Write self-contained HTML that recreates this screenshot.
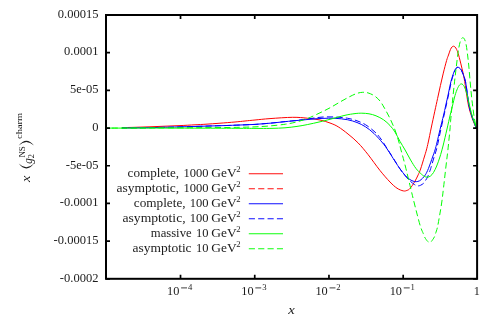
<!DOCTYPE html>
<html><head><meta charset="utf-8"><title>plot</title>
<style>
html,body{margin:0;padding:0;background:#fff;}
body{width:496px;height:319px;overflow:hidden;position:relative;font-family:"Liberation Serif",serif;}
svg text{font-family:"Liberation Serif",serif;fill:#1c1c1c;}
</style></head><body>
<svg width="496" height="319" viewBox="0 0 496 319" style="position:absolute;left:0;top:0;will-change:transform;opacity:0.999">
<defs><clipPath id="cl"><rect x="122" y="0" width="374" height="319"/></clipPath></defs>
<path d="M106.00 128.00 C108.33 127.95 115.17 127.82 120.00 127.70 C124.83 127.58 130.00 127.45 135.00 127.30 C140.00 127.15 145.00 126.98 150.00 126.80 C155.00 126.62 160.00 126.40 165.00 126.20 C170.00 126.00 175.00 125.83 180.00 125.60 C185.00 125.37 190.67 125.03 195.00 124.80 C199.33 124.57 201.83 124.47 206.00 124.20 C210.17 123.93 215.17 123.57 220.00 123.20 C224.83 122.83 230.83 122.37 235.00 122.00 C239.17 121.63 241.67 121.33 245.00 121.00 C248.33 120.67 250.83 120.40 255.00 120.00 C259.17 119.60 263.72 119.05 270.00 118.60 C276.28 118.15 286.48 117.37 292.70 117.30 C298.92 117.23 302.75 117.75 307.30 118.20 C311.85 118.65 316.22 119.20 320.00 120.00 C323.78 120.80 326.97 121.87 330.00 123.00 C333.03 124.13 335.20 124.97 338.20 126.80 C341.20 128.63 344.67 131.30 348.00 134.00 C351.33 136.70 354.87 139.58 358.20 143.00 C361.53 146.42 364.37 149.92 368.00 154.50 C371.63 159.08 376.33 165.92 380.00 170.50 C383.67 175.08 387.17 179.05 390.00 182.00 C392.83 184.95 394.78 186.72 397.00 188.20 C399.22 189.68 401.63 190.53 403.30 190.90 C404.97 191.27 405.85 190.83 407.00 190.40 C408.15 189.97 408.90 189.78 410.20 188.30 C411.50 186.82 413.47 183.75 414.80 181.50 C416.13 179.25 417.23 176.88 418.20 174.80 C419.17 172.72 419.58 171.97 420.60 169.00 C421.62 166.03 423.33 160.17 424.30 157.00 C425.27 153.83 425.73 152.50 426.40 150.00 C427.07 147.50 427.50 145.67 428.30 142.00 C429.10 138.33 430.12 133.13 431.20 128.00 C432.28 122.87 433.73 116.13 434.80 111.20 C435.87 106.27 436.67 102.67 437.60 98.40 C438.53 94.13 439.45 89.82 440.40 85.60 C441.35 81.38 442.27 77.28 443.30 73.10 C444.33 68.92 445.73 63.52 446.60 60.50 C447.47 57.48 447.87 56.82 448.50 55.00 C449.13 53.18 449.82 50.93 450.40 49.60 C450.98 48.27 451.48 47.57 452.00 47.00 C452.52 46.43 453.00 46.20 453.50 46.20 C454.00 46.20 454.47 46.43 455.00 47.00 C455.53 47.57 456.10 48.27 456.70 49.60 C457.30 50.93 457.82 52.27 458.60 55.00 C459.38 57.73 460.48 62.17 461.40 66.00 C462.32 69.83 463.27 73.50 464.10 78.00 C464.93 82.50 465.65 88.30 466.40 93.00 C467.15 97.70 467.65 102.03 468.60 106.20 C469.55 110.37 470.83 114.35 472.10 118.00 C473.37 121.65 475.52 126.42 476.20 128.10" fill="none" stroke="#ff0000" stroke-width="1.0" stroke-linejoin="round" clip-path="url(#cl)"/>
<path d="M106.00 128.10 C110.83 128.07 126.00 128.02 135.00 127.90 C144.00 127.78 152.50 127.57 160.00 127.40 C167.50 127.23 172.33 127.12 180.00 126.90 C187.67 126.68 198.50 126.32 206.00 126.10 C213.50 125.88 219.33 125.73 225.00 125.55 C230.67 125.37 235.00 125.19 240.00 125.00 C245.00 124.81 250.00 124.70 255.00 124.40 C260.00 124.10 264.92 123.67 270.00 123.20 C275.08 122.73 281.00 122.05 285.50 121.60 C290.00 121.15 292.92 120.88 297.00 120.50 C301.08 120.12 305.83 119.65 310.00 119.30 C314.17 118.95 317.83 118.57 322.00 118.40 C326.17 118.23 330.78 118.08 335.00 118.30 C339.22 118.52 343.63 119.00 347.30 119.70 C350.97 120.40 353.97 121.32 357.00 122.50 C360.03 123.68 362.67 124.97 365.50 126.80 C368.33 128.63 371.13 130.80 374.00 133.50 C376.87 136.20 380.40 140.25 382.70 143.00 C385.00 145.75 385.75 146.95 387.80 150.00 C389.85 153.05 392.97 158.15 395.00 161.30 C397.03 164.45 398.33 166.58 400.00 168.90 C401.67 171.22 403.50 173.53 405.00 175.20 C406.50 176.87 407.67 177.92 409.00 178.90 C410.33 179.88 411.80 180.63 413.00 181.10 C414.20 181.57 415.12 181.75 416.20 181.70 C417.28 181.65 418.45 181.37 419.50 180.80 C420.55 180.23 421.52 179.30 422.50 178.30 C423.48 177.30 424.42 176.42 425.40 174.80 C426.38 173.18 427.20 171.57 428.40 168.60 C429.60 165.63 431.50 160.10 432.60 157.00 C433.70 153.90 434.25 152.50 435.00 150.00 C435.75 147.50 436.27 145.40 437.10 142.00 C437.93 138.60 438.92 134.10 440.00 129.60 C441.08 125.10 442.67 118.93 443.60 115.00 C444.53 111.07 444.78 109.67 445.60 106.00 C446.42 102.33 447.60 97.13 448.50 93.00 C449.40 88.87 450.08 84.70 451.00 81.20 C451.92 77.70 453.17 74.15 454.00 72.00 C454.83 69.85 455.35 69.10 456.00 68.30 C456.65 67.50 457.23 67.18 457.90 67.20 C458.57 67.22 459.28 67.60 460.00 68.40 C460.72 69.20 461.30 69.87 462.20 72.00 C463.10 74.13 464.57 77.70 465.40 81.20 C466.23 84.70 466.57 88.83 467.20 93.00 C467.83 97.17 468.32 102.03 469.20 106.20 C470.08 110.37 471.32 114.35 472.50 118.00 C473.68 121.65 475.67 126.42 476.30 128.10" fill="none" stroke="#0000ff" stroke-width="1.0" stroke-linejoin="round" clip-path="url(#cl)"/>
<path d="M106.00 128.10 C110.83 128.07 126.00 128.02 135.00 127.90 C144.00 127.78 152.50 127.57 160.00 127.40 C167.50 127.23 172.33 127.12 180.00 126.90 C187.67 126.68 198.50 126.32 206.00 126.10 C213.50 125.88 219.33 125.73 225.00 125.55 C230.67 125.37 235.00 125.19 240.00 125.00 C245.00 124.81 250.00 124.70 255.00 124.40 C260.00 124.10 264.92 123.68 270.00 123.20 C275.08 122.72 281.00 122.02 285.50 121.55 C290.00 121.08 292.92 120.89 297.00 120.40 C301.08 119.91 305.83 119.15 310.00 118.60 C314.17 118.05 317.83 117.37 322.00 117.10 C326.17 116.83 330.78 116.82 335.00 117.00 C339.22 117.18 343.63 117.57 347.30 118.20 C350.97 118.83 353.97 119.72 357.00 120.80 C360.03 121.88 362.67 122.97 365.50 124.70 C368.33 126.43 371.58 129.03 374.00 131.20 C376.42 133.37 377.70 134.63 380.00 137.70 C382.30 140.77 385.30 145.72 387.80 149.60 C390.30 153.48 392.97 157.78 395.00 161.00 C397.03 164.22 398.33 166.47 400.00 168.90 C401.67 171.33 403.30 173.57 405.00 175.60 C406.70 177.63 408.63 179.62 410.20 181.10 C411.77 182.58 413.18 183.70 414.40 184.50 C415.62 185.30 416.48 185.77 417.50 185.90 C418.52 186.03 419.47 185.75 420.50 185.30 C421.53 184.85 422.85 184.03 423.70 183.20 C424.55 182.37 424.95 181.33 425.60 180.30 C426.25 179.27 426.98 178.30 427.60 177.00 C428.22 175.70 428.78 173.92 429.30 172.50 C429.82 171.08 429.90 171.08 430.70 168.50 C431.50 165.92 433.17 160.08 434.10 157.00 C435.03 153.92 435.62 152.50 436.30 150.00 C436.98 147.50 437.45 145.40 438.20 142.00 C438.95 138.60 439.82 134.10 440.80 129.60 C441.78 125.10 443.22 118.93 444.10 115.00 C444.98 111.07 445.29 109.67 446.10 106.00 C446.91 102.33 448.06 97.13 448.95 93.00 C449.84 88.87 450.55 84.70 451.45 81.20 C452.35 77.70 453.56 74.13 454.35 72.00 C455.14 69.87 455.59 69.20 456.20 68.40 C456.81 67.60 457.37 67.20 458.00 67.20 C458.63 67.20 459.30 67.60 460.00 68.40 C460.70 69.20 461.30 69.87 462.20 72.00 C463.10 74.13 464.57 77.70 465.40 81.20 C466.23 84.70 466.57 88.83 467.20 93.00 C467.83 97.17 468.32 102.03 469.20 106.20 C470.08 110.37 471.32 114.35 472.50 118.00 C473.68 121.65 475.67 126.42 476.30 128.10" fill="none" stroke="#0000ff" stroke-width="1.0" stroke-dasharray="6.15 3.225" stroke-dashoffset="3.58" stroke-linejoin="round" clip-path="url(#cl)"/>
<path d="M106.00 128.10 C110.83 128.10 126.00 128.10 135.00 128.10 C144.00 128.10 149.17 128.09 160.00 128.10 C170.83 128.11 186.67 128.12 200.00 128.15 C213.33 128.18 230.00 128.26 240.00 128.30 C250.00 128.34 254.67 128.39 260.00 128.40 C265.33 128.41 267.83 128.45 272.00 128.35 C276.17 128.25 280.83 128.12 285.00 127.80 C289.17 127.47 293.28 126.93 297.00 126.40 C300.72 125.87 303.47 125.37 307.30 124.60 C311.13 123.83 316.22 122.68 320.00 121.80 C323.78 120.92 325.83 120.38 330.00 119.30 C334.17 118.22 340.83 116.25 345.00 115.30 C349.17 114.35 352.20 113.95 355.00 113.60 C357.80 113.25 359.47 113.17 361.80 113.20 C364.13 113.23 366.63 113.37 369.00 113.80 C371.37 114.23 373.57 114.80 376.00 115.80 C378.43 116.80 381.27 118.18 383.60 119.80 C385.93 121.42 388.10 123.47 390.00 125.50 C391.90 127.53 393.33 129.35 395.00 132.00 C396.67 134.65 398.32 138.40 400.00 141.40 C401.68 144.40 403.33 146.90 405.10 150.00 C406.87 153.10 408.78 156.92 410.60 160.00 C412.42 163.08 414.22 166.17 416.00 168.50 C417.78 170.83 419.92 172.70 421.30 174.00 C422.68 175.30 423.30 175.77 424.30 176.30 C425.30 176.83 426.28 177.23 427.30 177.20 C428.32 177.17 429.37 176.88 430.40 176.10 C431.43 175.32 432.45 174.18 433.50 172.50 C434.55 170.82 435.63 168.58 436.70 166.00 C437.77 163.42 438.85 160.33 439.90 157.00 C440.95 153.67 441.82 150.67 443.00 146.00 C444.18 141.33 445.80 134.17 447.00 129.00 C448.20 123.83 449.30 118.80 450.20 115.00 C451.10 111.20 451.60 109.45 452.40 106.20 C453.20 102.95 454.15 98.45 455.00 95.50 C455.85 92.55 456.75 90.25 457.50 88.50 C458.25 86.75 458.87 85.77 459.50 85.00 C460.13 84.23 460.72 83.93 461.30 83.90 C461.88 83.87 462.40 84.12 463.00 84.80 C463.60 85.48 464.17 86.13 464.90 88.00 C465.63 89.87 466.60 92.97 467.40 96.00 C468.20 99.03 468.80 102.53 469.70 106.20 C470.60 109.87 471.68 114.35 472.80 118.00 C473.92 121.65 475.80 126.42 476.40 128.10" fill="none" stroke="#00ff00" stroke-width="1.0" stroke-linejoin="round"/>
<path d="M106.20 128.10 C111.00 128.08 126.03 128.03 135.00 128.00 C143.97 127.97 149.17 127.95 160.00 127.90 C170.83 127.85 186.67 127.80 200.00 127.70 C213.33 127.60 229.17 127.53 240.00 127.30 C250.83 127.07 257.42 126.82 265.00 126.30 C272.58 125.78 280.17 124.95 285.50 124.20 C290.83 123.45 293.37 122.73 297.00 121.80 C300.63 120.87 303.47 120.10 307.30 118.60 C311.13 117.10 316.22 114.60 320.00 112.80 C323.78 111.00 326.67 109.60 330.00 107.80 C333.33 106.00 336.67 103.88 340.00 102.00 C343.33 100.12 347.17 97.93 350.00 96.50 C352.83 95.07 354.88 94.10 357.00 93.40 C359.12 92.70 360.87 92.38 362.70 92.30 C364.53 92.22 366.03 92.30 368.00 92.90 C369.97 93.50 372.50 94.55 374.50 95.90 C376.50 97.25 378.33 98.95 380.00 101.00 C381.67 103.05 382.83 105.28 384.50 108.20 C386.17 111.12 388.25 114.87 390.00 118.50 C391.75 122.13 393.57 126.25 395.00 130.00 C396.43 133.75 397.60 137.67 398.60 141.00 C399.60 144.33 399.88 145.83 401.00 150.00 C402.12 154.17 403.70 159.67 405.30 166.00 C406.90 172.33 409.15 182.00 410.60 188.00 C412.05 194.00 412.88 197.50 414.00 202.00 C415.12 206.50 416.20 210.83 417.30 215.00 C418.40 219.17 419.60 223.90 420.60 227.00 C421.60 230.10 422.63 231.93 423.30 233.60 C423.97 235.27 424.12 236.00 424.60 237.00 C425.08 238.00 425.67 238.85 426.20 239.60 C426.73 240.35 427.23 241.02 427.80 241.50 C428.37 241.98 429.02 242.50 429.60 242.50 C430.18 242.50 430.77 242.00 431.30 241.50 C431.83 241.00 432.25 240.33 432.80 239.50 C433.35 238.67 434.13 237.52 434.60 236.50 C435.07 235.48 435.12 234.98 435.60 233.40 C436.08 231.82 436.82 230.07 437.50 227.00 C438.18 223.93 438.98 219.17 439.70 215.00 C440.42 210.83 441.17 206.50 441.80 202.00 C442.43 197.50 442.80 194.00 443.50 188.00 C444.20 182.00 445.27 172.33 446.00 166.00 C446.73 159.67 447.23 156.17 447.90 150.00 C448.57 143.83 449.53 134.00 450.00 129.00 C450.47 124.00 450.27 124.83 450.70 120.00 C451.13 115.17 451.95 106.47 452.60 100.00 C453.25 93.53 453.97 86.87 454.60 81.20 C455.23 75.53 455.83 70.72 456.40 66.00 C456.97 61.28 457.48 56.50 458.00 52.90 C458.52 49.30 458.98 46.65 459.50 44.40 C460.02 42.15 460.55 40.52 461.10 39.40 C461.65 38.28 462.22 37.70 462.80 37.70 C463.38 37.70 464.03 38.18 464.60 39.40 C465.17 40.62 465.70 42.40 466.20 45.00 C466.70 47.60 467.17 51.50 467.60 55.00 C468.03 58.50 468.40 61.83 468.80 66.00 C469.20 70.17 469.57 75.17 470.00 80.00 C470.43 84.83 470.95 90.63 471.40 95.00 C471.85 99.37 472.22 102.37 472.70 106.20 C473.18 110.03 473.70 114.35 474.30 118.00 C474.90 121.65 475.97 126.42 476.30 128.10" fill="none" stroke="#00ff00" stroke-width="1.0" stroke-dasharray="6.15 3.225" stroke-dashoffset="3.86" stroke-linejoin="round"/>
<path d="M248.8 173.75 H283" fill="none" stroke="#ff0000" stroke-width="0.95"/>
<path d="M248.8 188.75 H283" fill="none" stroke="#ff0000" stroke-width="0.95" stroke-dasharray="6.15 3.225"/>
<path d="M248.8 203.75 H283" fill="none" stroke="#0000ff" stroke-width="0.95"/>
<path d="M248.8 218.75 H283" fill="none" stroke="#0000ff" stroke-width="0.95" stroke-dasharray="6.15 3.225"/>
<path d="M248.8 233.75 H283" fill="none" stroke="#00ff00" stroke-width="0.95"/>
<path d="M248.8 248.75 H283" fill="none" stroke="#00ff00" stroke-width="0.95" stroke-dasharray="6.15 3.225"/>
<path d="M106.00 15.00 h4.00 M477.10 15.00 h-4.00" stroke="#000" stroke-width="1.7" fill="none"/>
<path d="M106.00 52.69 h4.00 M477.10 52.69 h-4.00" stroke="#000" stroke-width="1.7" fill="none"/>
<path d="M106.00 90.37 h4.00 M477.10 90.37 h-4.00" stroke="#000" stroke-width="1.7" fill="none"/>
<path d="M106.00 128.06 h4.00 M477.10 128.06 h-4.00" stroke="#000" stroke-width="1.7" fill="none"/>
<path d="M106.00 165.74 h4.00 M477.10 165.74 h-4.00" stroke="#000" stroke-width="1.7" fill="none"/>
<path d="M106.00 203.43 h4.00 M477.10 203.43 h-4.00" stroke="#000" stroke-width="1.7" fill="none"/>
<path d="M106.00 241.11 h4.00 M477.10 241.11 h-4.00" stroke="#000" stroke-width="1.7" fill="none"/>
<path d="M106.00 278.80 h4.00 M477.10 278.80 h-4.00" stroke="#000" stroke-width="1.7" fill="none"/>
<path d="M180.52 278.80 v-4.00 M180.52 15.00 v4.00" stroke="#000" stroke-width="1.7" fill="none"/>
<path d="M254.74 278.80 v-4.00 M254.74 15.00 v4.00" stroke="#000" stroke-width="1.7" fill="none"/>
<path d="M328.96 278.80 v-4.00 M328.96 15.00 v4.00" stroke="#000" stroke-width="1.7" fill="none"/>
<path d="M403.18 278.80 v-4.00 M403.18 15.00 v4.00" stroke="#000" stroke-width="1.7" fill="none"/>
<rect x="106.00" y="15.00" width="371.10" height="263.80" fill="none" stroke="#000" stroke-width="2.0"/>
<text x="98.40" y="17.80" font-size="12.50" text-anchor="end">0.00015</text>
<text x="98.40" y="55.49" font-size="12.50" text-anchor="end">0.0001</text>
<text x="98.40" y="93.17" font-size="12.50" text-anchor="end">5e-05</text>
<text x="98.40" y="130.86" font-size="12.50" text-anchor="end">0</text>
<text x="98.40" y="168.54" font-size="12.50" text-anchor="end">-5e-05</text>
<text x="98.40" y="206.23" font-size="12.50" text-anchor="end">-0.0001</text>
<text x="98.40" y="243.91" font-size="12.50" text-anchor="end">-0.00015</text>
<text x="98.40" y="281.60" font-size="12.50" text-anchor="end">-0.0002</text>
<text x="167.02" y="295.20" font-size="12.30">10</text>
<path d="M181.12 287.9 h5.9" stroke="#1c1c1c" stroke-width="0.85" fill="none"/>
<text x="187.92" y="290.00" font-size="8.70">4</text>
<text x="241.24" y="295.20" font-size="12.30">10</text>
<path d="M255.34 287.9 h5.9" stroke="#1c1c1c" stroke-width="0.85" fill="none"/>
<text x="262.14" y="290.00" font-size="8.70">3</text>
<text x="315.46" y="295.20" font-size="12.30">10</text>
<path d="M329.56 287.9 h5.9" stroke="#1c1c1c" stroke-width="0.85" fill="none"/>
<text x="336.36" y="290.00" font-size="8.70">2</text>
<text x="389.68" y="295.20" font-size="12.30">10</text>
<path d="M403.78 287.9 h5.9" stroke="#1c1c1c" stroke-width="0.85" fill="none"/>
<text x="410.58" y="290.00" font-size="8.70">1</text>
<text x="476.90" y="295.20" font-size="12.30" text-anchor="middle">1</text>
<text x="288.20" y="313.60" font-size="12.40" textLength="6.50" lengthAdjust="spacingAndGlyphs" font-style="italic">x</text>
<text x="127.60" y="177.25" font-size="12.30" textLength="51.50" lengthAdjust="spacingAndGlyphs">complete,</text>
<text x="183.60" y="177.25" font-size="12.30" textLength="25.00" lengthAdjust="spacingAndGlyphs">1000</text>
<text x="211.30" y="177.25" font-size="12.30" textLength="25.40" lengthAdjust="spacingAndGlyphs">GeV</text>
<text x="236.20" y="171.85" font-size="8.60">2</text>
<text x="116.50" y="192.25" font-size="12.30" textLength="62.60" lengthAdjust="spacingAndGlyphs">asymptotic,</text>
<text x="183.60" y="192.25" font-size="12.30" textLength="25.00" lengthAdjust="spacingAndGlyphs">1000</text>
<text x="211.30" y="192.25" font-size="12.30" textLength="25.40" lengthAdjust="spacingAndGlyphs">GeV</text>
<text x="236.20" y="186.85" font-size="8.60">2</text>
<text x="133.80" y="207.25" font-size="12.30" textLength="51.80" lengthAdjust="spacingAndGlyphs">complete,</text>
<text x="189.80" y="207.25" font-size="12.30" textLength="18.80" lengthAdjust="spacingAndGlyphs">100</text>
<text x="211.30" y="207.25" font-size="12.30" textLength="25.40" lengthAdjust="spacingAndGlyphs">GeV</text>
<text x="236.20" y="201.85" font-size="8.60">2</text>
<text x="122.50" y="222.25" font-size="12.30" textLength="63.10" lengthAdjust="spacingAndGlyphs">asymptotic,</text>
<text x="189.80" y="222.25" font-size="12.30" textLength="18.80" lengthAdjust="spacingAndGlyphs">100</text>
<text x="211.30" y="222.25" font-size="12.30" textLength="25.40" lengthAdjust="spacingAndGlyphs">GeV</text>
<text x="236.20" y="216.85" font-size="8.60">2</text>
<text x="150.80" y="237.25" font-size="12.30" textLength="40.80" lengthAdjust="spacingAndGlyphs">massive</text>
<text x="196.10" y="237.25" font-size="12.30" textLength="12.50" lengthAdjust="spacingAndGlyphs">10</text>
<text x="211.30" y="237.25" font-size="12.30" textLength="25.40" lengthAdjust="spacingAndGlyphs">GeV</text>
<text x="236.20" y="231.85" font-size="8.60">2</text>
<text x="132.60" y="252.25" font-size="12.30" textLength="59.00" lengthAdjust="spacingAndGlyphs">asymptotic</text>
<text x="196.10" y="252.25" font-size="12.30" textLength="12.50" lengthAdjust="spacingAndGlyphs">10</text>
<text x="211.30" y="252.25" font-size="12.30" textLength="25.40" lengthAdjust="spacingAndGlyphs">GeV</text>
<text x="236.20" y="246.85" font-size="8.60">2</text>
<g transform="rotate(-90)"><text x="-181.90" y="29.90" font-size="12.40" textLength="6.40" lengthAdjust="spacingAndGlyphs" font-style="italic">x</text><text x="-163.80" y="31.70" font-size="11.80" textLength="5.50" lengthAdjust="spacingAndGlyphs" font-style="italic">g</text><text x="-158.30" y="33.90" font-size="8.30">2</text><text x="-157.60" y="25.00" font-size="8.40" textLength="11.40" lengthAdjust="spacingAndGlyphs">NS</text><text x="-138.90" y="22.30" font-size="8.80" textLength="26.00" lengthAdjust="spacingAndGlyphs">charm</text></g>
<path d="M18.7 145.6 Q26.35 136.1 34.0 145.6 Q26.35 138.4 18.7 145.6Z" fill="#1c1c1c"/>
<path d="M18.7 163.6 Q26.35 173.3 34.0 163.6 Q26.35 171.0 18.7 163.6Z" fill="#1c1c1c"/>
</svg>
</body></html>
